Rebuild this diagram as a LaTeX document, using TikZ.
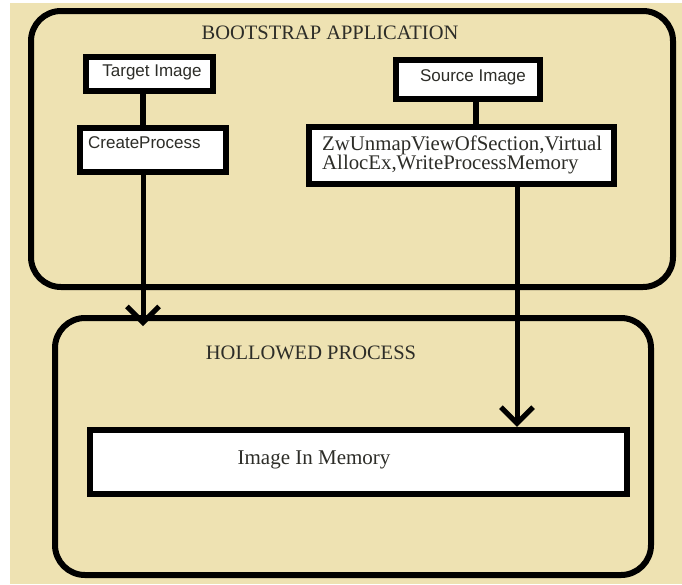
\documentclass[tikz,border=0pt]{standalone}
\usepackage{fontspec}
\setmainfont{Liberation Serif}
\newfontfamily\arialfont{Liberation Sans}
\usetikzlibrary{arrows.meta}
\definecolor{cream}{RGB}{238,226,178}
\definecolor{txtgray}{RGB}{45,45,40}
\begin{document}
\begin{tikzpicture}[x=1pt,y=-1pt,
  bigbox/.style={draw=black,line width=6pt,rounded corners=30pt,inner sep=0pt},
  whitebox/.style={draw=black,fill=white,line width=6.5pt,inner sep=0pt},
  serif/.style={font=\fontsize{20}{19.5}\selectfont,text=txtgray,inner sep=0pt},
  sanstxt/.style={font=\arialfont\fontsize{17}{18}\selectfont,text=txtgray,inner sep=0pt},
  link/.style={line width=6pt},
  arrowlink/.style={line width=5pt,-{Straight Barb[length=16pt,width=32pt]}}]
\useasboundingbox (0,0) rectangle (682,584);
\fill[white] (0,0) rectangle (682,584);
\fill[cream] (10,3) rectangle (682,584);
% outer containers
\node[bigbox,minimum width=642pt,minimum height=276pt] (boot) at (352,149) {};
\node[bigbox,minimum width=596pt,minimum height=257pt] (hollow) at (353,446.5) {};
\node[serif,font=\fontsize{20.5}{20}\selectfont] (boottitle) at (330,33) {BOOTSTRAP APPLICATION};
\node[serif,font=\fontsize{20.5}{20}\selectfont] (holltitle) at (311,353) {HOLLOWED PROCESS};
% left column
\node[whitebox,minimum width=127pt,minimum height=34pt] (target) at (149.5,74) {};
\node[sanstxt] (targettxt) at (152,72) {Target Image};
\node[whitebox,minimum width=146pt,minimum height=44pt] (cp) at (153,150) {};
\node[sanstxt,anchor=west] (cptxt) at (88,143) {CreateProcess};
% right column
\node[whitebox,minimum width=144pt,minimum height=39pt] (source) at (468,79.5) {};
\node[sanstxt] (sourcetxt) at (473,77) {Source Image};
\node[whitebox,minimum width=305pt,minimum height=57pt] (zw) at (461.5,155.5) {};
\node[serif,anchor=west,align=left,font=\fontsize{20.8}{19.5}\selectfont] (zwtxt) at (322,155) {ZwUnmapViewOfSection,Virtual\\AllocEx,WriteProcessMemory};
% memory box
\node[whitebox,minimum width=537pt,minimum height=64pt] (mem) at (358.5,462) {};
\node[serif,font=\fontsize{21}{21}\selectfont] (memtxt) at (314,460) {Image In Memory};
% connectors
\coordinate (a1end) at (143,326);
\draw[link] (target.south -| a1end) -- (cp.north -| a1end);
\draw[link] (source.south -| 476,0) -- (zw.north -| 476,0);
\draw[arrowlink] (cp.south -| a1end) -- (a1end);
\coordinate (a2x) at (517,0);
\draw[arrowlink] (zw.south -| a2x) -- (mem.north -| a2x);
\end{tikzpicture}
\end{document}
